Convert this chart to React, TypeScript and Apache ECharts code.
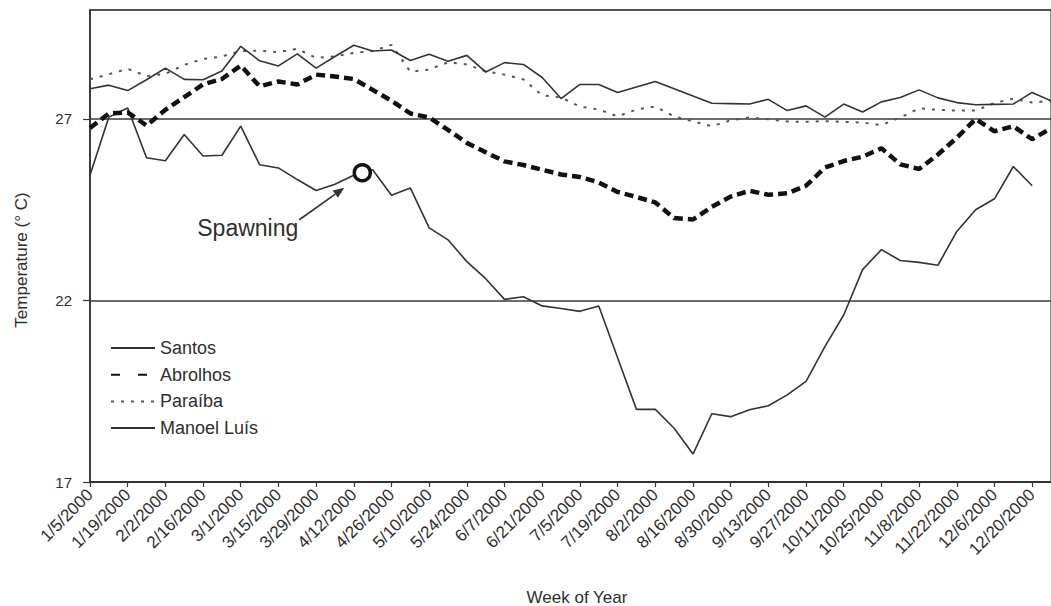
import React, { useEffect, useRef } from "react";
import * as echarts from "echarts";

const weeks = [
  "1/5/2000", "1/12/2000", "1/19/2000", "1/26/2000", "2/2/2000", "2/9/2000", "2/16/2000", "2/23/2000",
  "3/1/2000", "3/8/2000", "3/15/2000", "3/22/2000", "3/29/2000", "4/5/2000", "4/12/2000", "4/19/2000",
  "4/26/2000", "5/3/2000", "5/10/2000", "5/17/2000", "5/24/2000", "5/31/2000", "6/7/2000", "6/14/2000",
  "6/21/2000", "6/28/2000", "7/5/2000", "7/12/2000", "7/19/2000", "7/26/2000", "8/2/2000", "8/9/2000",
  "8/16/2000", "8/23/2000", "8/30/2000", "9/6/2000", "9/13/2000", "9/20/2000", "9/27/2000", "10/4/2000",
  "10/11/2000", "10/18/2000", "10/25/2000", "11/1/2000", "11/8/2000", "11/15/2000", "11/22/2000", "11/29/2000",
  "12/6/2000", "12/13/2000", "12/20/2000", "12/27/2000",
];

const santos = [
  25.45, 27.05, 27.3, 25.93, 25.85, 26.57, 25.98, 26.0, 26.8, 25.74, 25.65, 25.33, 25.03, 25.2, 25.45, 25.6,
  24.9, 25.1, 24.0, 23.67, 23.07, 22.6, 22.03, 22.1, 21.85, 21.78, 21.7, 21.85, 20.42, 19.0, 19.0, 18.48,
  17.77, 18.88, 18.8, 18.99, 19.1, 19.4, 19.77, 20.73, 21.6, 22.85, 23.4, 23.1, 23.05, 22.97, 23.9, 24.5,
  24.8, 25.69, 25.16,
];

const abrolhos = [
  26.75, 27.15, 27.18, 26.82, 27.25, 27.6, 27.95, 28.1, 28.47, 27.9, 28.03, 27.95, 28.22, 28.17, 28.1, 27.8,
  27.5, 27.15, 27.04, 26.7, 26.34, 26.08, 25.83, 25.73, 25.6, 25.47, 25.4, 25.25, 24.99, 24.85, 24.7, 24.27,
  24.23, 24.58, 24.86, 25.02, 24.91, 24.95, 25.16, 25.66, 25.84, 25.96, 26.19, 25.75, 25.62, 26.02, 26.48, 27.0,
  26.66, 26.8, 26.44, 26.74,
];

const paraiba = [
  28.09, 28.23, 28.38, 28.18, 28.24, 28.49, 28.65, 28.72, 28.87, 28.88, 28.84, 28.93, 28.68, 28.72, 28.82, 28.87,
  29.04, 28.3, 28.36, 28.56, 28.5, 28.31, 28.22, 28.09, 27.65, 27.59, 27.34, 27.26, 27.07, 27.26, 27.34, 27.07,
  26.93, 26.8, 26.96, 27.04, 26.99, 26.93, 26.92, 26.94, 26.92, 26.9, 26.83, 27.04, 27.29, 27.25, 27.23, 27.23,
  27.44, 27.56, 27.45, 27.5,
];

const manoelLuis = [
  27.83, 27.93, 27.78, 28.08, 28.4, 28.09, 28.08, 28.32, 29.0, 28.6, 28.46, 28.79, 28.4, 28.72, 29.03, 28.87,
  28.9, 28.61, 28.78, 28.59, 28.75, 28.29, 28.55, 28.5, 28.14, 27.56, 27.95, 27.95, 27.73, 27.88, 28.03, 27.83,
  27.63, 27.43, 27.42, 27.41, 27.54, 27.23, 27.36, 27.05, 27.41, 27.19, 27.47, 27.59, 27.8, 27.58, 27.45, 27.39,
  27.4, 27.41, 27.73, 27.5,
];

const seriesNames = ["Santos", "Abrolhos", "Paraíba", "Manoel Luís"];
const yTicks = { min: 17, max: 30, interval: 5 };
const spawningWeek = "4/12/2000";
const spawningFraction = 0.45;
const spawningLabel = "Spawning";

const FONT = "'Liberation Sans', Arial, sans-serif";
const INK = "#2e2e2e";

export default function App() {
  const ref = useRef<HTMLDivElement>(null);

  useEffect(() => {
    if (!ref.current) return;
    const chart = echarts.init(ref.current, undefined, { renderer: "svg" });

    const option: any = {
      animation: false,
      backgroundColor: "#ffffff",
      textStyle: { fontFamily: FONT, color: INK },
      grid: {
        left: 90,
        right: 0,
        top: 10,
        bottom: 124,
        show: true,
        borderColor: "#444",
        borderWidth: 1.2,
        backgroundColor: "transparent",
      },
      legend: {
        orient: "vertical",
        left: 110,
        top: 339,
        padding: 0,
        itemWidth: 44,
        itemHeight: 18,
        itemGap: 8.7,
        itemStyle: { opacity: 0, borderWidth: 0 },
        textStyle: { fontSize: 18, color: INK, fontFamily: FONT },
        data: [
          { name: seriesNames[0] },
          { name: seriesNames[1], lineStyle: { type: [9, 18] } },
          { name: seriesNames[2] },
          { name: seriesNames[3] },
        ],
      },
      xAxis: {
        type: "category",
        data: weeks,
        boundaryGap: false,
        axisLine: { lineStyle: { color: "#333", width: 1.8 } },
        axisTick: { show: true, interval: 1, length: 5, lineStyle: { color: "#333", width: 1.2 } },
        axisLabel: {
          interval: 1,
          rotate: 45,
          margin: 10,
          fontSize: 17,
          color: INK,
          fontFamily: FONT,
        },
        splitLine: { show: false },
      },
      yAxis: {
        type: "value",
        min: yTicks.min,
        max: yTicks.max,
        interval: yTicks.interval,
        axisLine: { show: true, lineStyle: { color: "#333", width: 1.8 } },
        axisTick: { show: true, length: 7, lineStyle: { color: "#333", width: 1.2 } },
        axisLabel: { fontSize: 15, color: INK, margin: 18, showMaxLabel: false, fontFamily: FONT },
        splitLine: { show: true, lineStyle: { color: "#3a3a3a", width: 1.5 } },
      },
      series: [
        {
          name: seriesNames[0],
          type: "line",
          data: santos,
          symbol: "none",
          lineStyle: { color: "#333", width: 1.6, type: "solid" },
          itemStyle: { color: "#333" },
          z: 3,
        },
        {
          name: seriesNames[1],
          type: "line",
          data: abrolhos,
          symbol: "none",
          lineStyle: { color: "#111", width: 4.5, type: [9, 5] },
          itemStyle: { color: "#111" },
          z: 4,
        },
        {
          name: seriesNames[2],
          type: "line",
          data: paraiba,
          symbol: "none",
          lineStyle: { color: "#555", width: 2, type: [3, 7] },
          itemStyle: { color: "#555" },
          z: 2,
        },
        {
          name: seriesNames[3],
          type: "line",
          data: manoelLuis,
          symbol: "none",
          lineStyle: { color: "#333", width: 1.6, type: "solid" },
          itemStyle: { color: "#333" },
          z: 3,
        },
      ],
    };

    chart.setOption(option);

    const i0 = weeks.indexOf(spawningWeek);
    const p0 = chart.convertToPixel({ seriesIndex: 0 }, [i0, santos[i0]]) as number[];
    const p1 = chart.convertToPixel({ seriesIndex: 0 }, [i0 + 1, santos[i0 + 1]]) as number[];
    const cx = p0[0] + spawningFraction * (p1[0] - p0[0]);
    const cy = p0[1] + spawningFraction * (p1[1] - p0[1]);

    const tip = [cx - 18, cy + 15];
    const tail = [cx - 63, cy + 47];
    const ang = Math.atan2(tip[1] - tail[1], tip[0] - tail[0]);
    const hl = 11;
    const hw = 4.5;
    const bx = tip[0] - hl * Math.cos(ang);
    const by = tip[1] - hl * Math.sin(ang);
    const head = [
      [tip[0], tip[1]],
      [bx + hw * Math.sin(ang), by - hw * Math.cos(ang)],
      [bx - hw * Math.sin(ang), by + hw * Math.cos(ang)],
    ];

    chart.setOption({
      graphic: [
        {
          type: "circle",
          z: 100,
          shape: { cx, cy, r: 8 },
          style: { fill: "#fff", stroke: "#111", lineWidth: 3.5 },
        },
        {
          type: "line",
          z: 100,
          shape: { x1: tail[0], y1: tail[1], x2: bx, y2: by },
          style: { stroke: "#333", lineWidth: 1.6 },
        },
        {
          type: "polygon",
          z: 100,
          shape: { points: head },
          style: { fill: "#333" },
        },
        {
          type: "text",
          z: 100,
          x: cx - 64,
          y: cy + 55,
          style: {
            text: spawningLabel,
            font: `23px ${FONT}`,
            fill: INK,
            align: "right",
            verticalAlign: "middle",
          },
        },
        {
          type: "text",
          x: 21,
          y: 260,
          rotation: Math.PI / 2,
          style: {
            text: "Temperature (° C)",
            font: `17px ${FONT}`,
            fill: INK,
            align: "center",
            verticalAlign: "middle",
          },
        },
        {
          type: "text",
          x: 577,
          y: 597,
          style: {
            text: "Week of Year",
            font: `17px ${FONT}`,
            fill: INK,
            align: "center",
            verticalAlign: "middle",
          },
        },
      ],
    });

    return () => {
      chart.dispose();
    };
  }, []);

  return (
    <div
      ref={ref}
      style={{ position: "fixed", left: 0, top: 0, width: 1051, height: 606, background: "#fff" }}
    />
  );
}
